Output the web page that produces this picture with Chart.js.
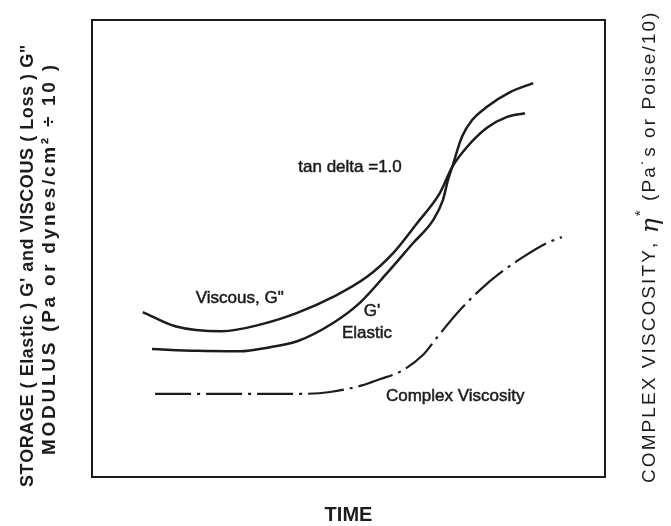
<!DOCTYPE html>
<html>
<head>
<meta charset="utf-8">
<script src="https://cdn.jsdelivr.net/npm/chart.js@4.4.1/dist/chart.umd.min.js"></script>
<style>
    html, body { margin: 0; padding: 0; background: #fff; }
</style>
</head>
<body>
<canvas id="myChart" width="671" height="526"></canvas>
<script>
// time and modulus are in arbitrary units (0-100)
const viscousTime = [9.9, 16.2, 25.3, 33.3, 40.0, 47.0, 53.6, 58.7, 63.4, 67.8, 70.2, 73.1, 77.0, 80.9, 84.4];
const viscousValues = [36.1, 33.0, 31.9, 33.5, 35.9, 39.4, 43.8, 49.0, 55.6, 62.1, 67.8, 72.2, 76.4, 78.8, 79.6];

const elasticTime = [11.7, 20.5, 28.8, 34.7, 40.0, 47.0, 52.2, 57.5, 62.6, 66.5, 68.4, 69.4, 70.2, 72.1, 74.1, 77.0, 81.5, 86.0];
const elasticValues = [28.0, 27.6, 27.5, 28.4, 29.7, 33.7, 38.1, 44.6, 51.2, 56.2, 60.6, 65.0, 67.8, 74.4, 78.1, 81.0, 84.2, 86.2];

const complexTime = [12.3, 41.1, 46.4, 52.8, 56.1, 60.0, 64.5, 67.3, 71.2, 75.6, 79.5, 84.0, 88.7, 91.6];
const complexValues = [18.2, 18.2, 18.6, 20.1, 21.4, 23.0, 26.7, 30.6, 35.9, 40.9, 44.6, 48.1, 51.2, 52.5];

const leftTitle = ["STORAGE ( Elastic ) G' and VISCOUS ( Loss ) G\"", "MODULUS (Pa or dynes/cm\u00B2 \u00F7 10 )"];
const rightTitle = ["COMPLEX VISCOSITY, ", "\u03B7", "*", " (Pa\u02D9s or Poise/10)"];
const xTitle = "TIME";
const noteTexts = ["tan delta =1.0", "Viscous, G\"", "G'", "Elastic", "Complex Viscosity"];

const ink = '#1c1c1c';

function toPoints(xs, ys) {
    return xs.map((x, i) => ({ x: x, y: ys[i] }));
}

// draws text char by char, rotated, spread to a given length
function drawSpread(ctx, parts, cx, cy, angle, length) {
    ctx.save();
    ctx.translate(cx, cy);
    ctx.rotate(angle);
    ctx.textAlign = 'left';
    ctx.textBaseline = 'middle';
    ctx.fillStyle = ink;
    let total = 0, count = 0;
    parts.forEach(p => {
        ctx.font = p.font;
        total += ctx.measureText(p.text).width;
        count += [...p.text].length;
    });
    const gap = length ? (length - total) / Math.max(count - 1, 1) : 0;
    let x = -(total + gap * (count - 1)) / 2;
    parts.forEach(p => {
        ctx.font = p.font;
        for (const ch of p.text) {
            ctx.fillText(ch, x, p.dy || 0);
            x += ctx.measureText(ch).width + gap;
        }
    });
    ctx.restore();
}

const textPlugin = {
    id: 'sketchText',
    afterDraw(chart) {
        const ctx = chart.ctx;
        const xs = chart.scales.x;
        const ys = chart.scales.y;
        const plain = '19px "Liberation Sans", Arial, sans-serif';

        drawSpread(ctx, [{ text: leftTitle[0], font: 'bold 18px "Liberation Sans", Arial, sans-serif' }], 28, 266, -Math.PI / 2, 442);
        drawSpread(ctx, [{ text: leftTitle[1], font: 'bold 19px "Liberation Sans", Arial, sans-serif' }], 50, 260, -Math.PI / 2, 390);

        drawSpread(ctx, [
            { text: rightTitle[0], font: plain },
            { text: rightTitle[1], font: 'italic 25px "DejaVu Serif", serif', dy: 1 },
            { text: rightTitle[2], font: '15px "Liberation Sans", Arial, sans-serif', dy: -9 },
            { text: rightTitle[3], font: plain }
        ], 650, 249, -Math.PI / 2, 468);

        // labels sit next to the curves, anchored in data units
        const anchors = [[50.3, 67.8], [28.8, 39.2], [54.6, 36.3], [53.6, 31.5], [70.8, 17.7]];
        ctx.save();
        ctx.font = '17px "Liberation Sans", Arial, sans-serif';
        ctx.fillStyle = ink;
        ctx.strokeStyle = ink;
        ctx.lineWidth = 0.5;
        ctx.textAlign = 'center';
        ctx.textBaseline = 'middle';
        noteTexts.forEach((t, i) => {
            const px = xs.getPixelForValue(anchors[i][0]);
            const py = ys.getPixelForValue(anchors[i][1]);
            ctx.fillText(t, px, py);
            ctx.strokeText(t, px, py);
        });
        ctx.restore();
    }
};

const frame = { display: true, color: ink, width: 2 };
const hidden = { display: false };
const noGrid = { display: false, drawTicks: false };

new Chart(document.getElementById('myChart'), {
    type: 'line',
    data: {
        datasets: [
            {
                label: 'Viscous, G"',
                data: toPoints(viscousTime, viscousValues),
                borderColor: ink,
                borderWidth: 2.5,
                pointRadius: 0,
                pointHoverRadius: 0,
                cubicInterpolationMode: 'monotone'
            },
            {
                label: "G' Elastic",
                data: toPoints(elasticTime, elasticValues),
                borderColor: ink,
                borderWidth: 2.5,
                pointRadius: 0,
                pointHoverRadius: 0,
                cubicInterpolationMode: 'monotone'
            },
            {
                label: 'Complex Viscosity',
                data: toPoints(complexTime, complexValues),
                borderColor: ink,
                borderWidth: 2.2,
                borderDash: [36, 6, 3, 6],
                pointRadius: 0,
                pointHoverRadius: 0,
                cubicInterpolationMode: 'monotone'
            }
        ]
    },
    options: {
        responsive: false,
        animation: false,
        events: [],
        layout: { autoPadding: false, padding: { left: 92, right: 66, top: 20, bottom: 0 } },
        plugins: { legend: hidden, tooltip: { enabled: false } },
        scales: {
            x: {
                type: 'linear', position: 'bottom', min: 0, max: 100,
                ticks: hidden, grid: noGrid, border: frame,
                title: {
                    display: true,
                    text: xTitle,
                    color: ink,
                    font: { family: '"Liberation Sans", Arial, sans-serif', size: 20, weight: 'bold', lineHeight: 1 },
                    padding: { top: 28, bottom: 1 }
                }
            },
            x2: {
                type: 'linear', position: 'top', min: 0, max: 100, display: true,
                ticks: hidden, grid: noGrid, border: frame
            },
            y: {
                type: 'linear', position: 'left', min: 0, max: 100,
                ticks: hidden, grid: noGrid, border: frame
            },
            y2: {
                type: 'linear', position: 'right', min: 0, max: 100, display: true,
                ticks: hidden, grid: noGrid, border: frame
            }
        }
    },
    plugins: [textPlugin]
});
</script>
</body>
</html>
